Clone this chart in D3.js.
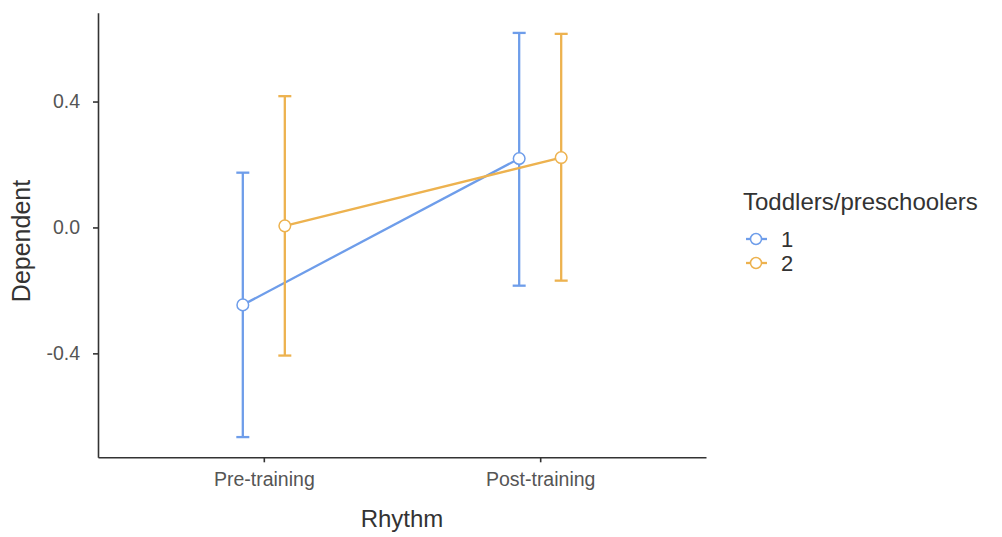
<!DOCTYPE html>
<html>
<head>
<meta charset="utf-8">
<script src="https://cdn.jsdelivr.net/npm/d3@7"></script>
<style>
  html, body { margin: 0; padding: 0; background: #fff; }
  svg { display: block; font-family: Arial, "Liberation Sans", sans-serif; }
</style>
</head>
<body>
<svg id="chart" width="1002" height="537"></svg>
<script>
// ---- data ----
const categories = ["Pre-training", "Post-training"];
const groups = ["1", "2"];
const means1 = [-0.246, 0.219];
const lower1 = [-0.666, -0.185];
const upper1 = [0.174, 0.618];
const means2 = [0.005, 0.222];
const lower2 = [-0.407, -0.169];
const upper2 = [0.417, 0.615];
const yTicks = [-0.4, 0.0, 0.4];
const xTitle = "Rhythm";
const yTitle = "Dependent";
const legendTitle = "Toddlers/preschoolers";

const colors = ["#6E9DEA", "#EDB24F"];

const series = [
  {name: groups[0], means: means1, lower: lower1, upper: upper1},
  {name: groups[1], means: means2, lower: lower2, upper: upper2}
];

(function () {
const svg = d3.select("#chart");
const pLeft = 98, pRight = 706, pTop = 12.7, pBottom = 457.3;

const x = d3.scalePoint().domain(categories).range([pLeft, pRight]).padding(0.6);
const allVals = lower1.concat(lower2, upper1, upper2);
const lo = d3.min(allVals), hi = d3.max(allVals), ex = (hi - lo) * 0.05;
const y = d3.scaleLinear().domain([lo - ex, hi + ex]).range([pBottom, pTop]);
const dodge = x.step() * 0.076;
const offs = [-dodge, dodge];

// axes
const yAxis = svg.append("g").attr("transform", `translate(${pLeft},0)`)
  .call(d3.axisLeft(y).tickValues(yTicks).tickFormat(d3.format(".1f")).tickSize(5).tickSizeOuter(0).tickPadding(13));
const xAxis = svg.append("g").attr("transform", `translate(0,${pBottom})`)
  .call(d3.axisBottom(x).tickSize(5).tickSizeOuter(0).tickPadding(10));
[yAxis, xAxis].forEach(a => {
  a.select(".domain").attr("stroke", "#333").attr("stroke-width", 1.6);
  a.selectAll(".tick line").attr("stroke", "#333").attr("stroke-width", 1.6);
  a.selectAll(".tick text").attr("fill", "#555").style("font-size", "19.5px");
});
yAxis.selectAll(".tick text").text(d => d3.format(".1f")(d).replace("−", "-"));

// axis titles
svg.append("text").attr("x", (pLeft + pRight) / 2).attr("y", 527)
  .attr("text-anchor", "middle").attr("fill", "#333").style("font-size", "24px").text(xTitle);
svg.append("text").attr("transform", `translate(30,${(pTop + pBottom) / 2 + 6}) rotate(-90)`)
  .attr("text-anchor", "middle").attr("fill", "#333").style("font-size", "25px").text(yTitle);

// series
series.forEach((s, i) => {
  const g = svg.append("g");
  const px = c => x(c) + offs[i];
  g.append("path")
    .datum(categories.map((c, j) => [px(c), y(s.means[j])]))
    .attr("d", d3.line()).attr("fill", "none").attr("stroke", colors[i]).attr("stroke-width", 2.3);
  categories.forEach((c, j) => {
    const cx = px(c);
    g.append("line").attr("x1", cx).attr("x2", cx).attr("y1", y(s.lower[j])).attr("y2", y(s.upper[j]))
      .attr("stroke", colors[i]).attr("stroke-width", 2.3);
    [s.lower[j], s.upper[j]].forEach(v => {
      g.append("line").attr("x1", cx - 6.5).attr("x2", cx + 6.5).attr("y1", y(v)).attr("y2", y(v))
        .attr("stroke", colors[i]).attr("stroke-width", 2.3);
    });
  });
});
series.forEach((s, i) => {
  svg.append("g").selectAll("circle").data(categories).join("circle")
    .attr("cx", (c) => x(c) + offs[i]).attr("cy", (c, j) => y(s.means[j])).attr("r", 5.8)
    .attr("fill", "#fff").attr("stroke", colors[i]).attr("stroke-width", 1.5);
});

// legend
const lg = svg.append("g");
lg.append("text").attr("x", 743).attr("y", 210).attr("fill", "#333").style("font-size", "24px").text(legendTitle);
groups.forEach((gname, i) => {
  const cy = 239 + i * 24;
  lg.append("line").attr("x1", 746).attr("x2", 767).attr("y1", cy).attr("y2", cy)
    .attr("stroke", colors[i]).attr("stroke-width", 2.3);
  lg.append("circle").attr("cx", 756).attr("cy", cy).attr("r", 5.5)
    .attr("fill", "#fff").attr("stroke", colors[i]).attr("stroke-width", 1.5);
  lg.append("text").attr("x", 781).attr("y", cy + 8).attr("fill", "#333").style("font-size", "22px").text(gname);
});
})();
</script>
</body>
</html>
